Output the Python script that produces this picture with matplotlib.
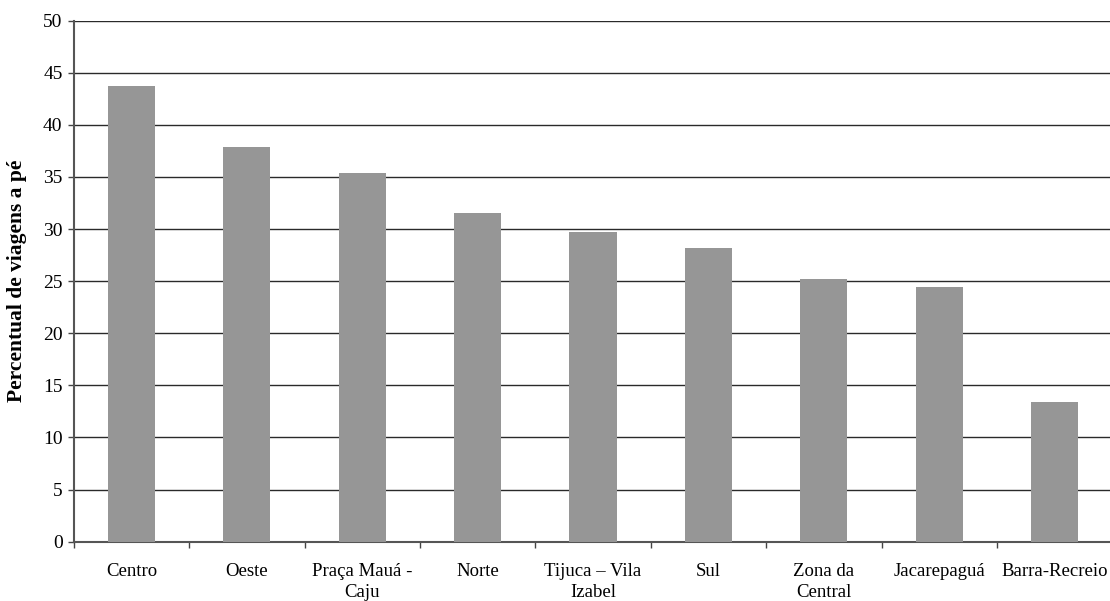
import numpy as np
import matplotlib
matplotlib.use("Agg")
import matplotlib.pyplot as plt

# Percentual de viagens a pé por região
regioes = ["Centro", "Oeste", "Praça Mauá -\nCaju", "Norte", "Tijuca – Vila\nIzabel",
           "Sul", "Zona da\nCentral", "Jacarepaguá", "Barra-Recreio"]
percentual = [43.7, 37.9, 35.4, 31.5, 29.7, 28.2, 25.2, 24.4, 13.4]
y_ticks = [0, 5, 10, 15, 20, 25, 30, 35, 40, 45, 50]

plt.rcParams["font.family"] = ["Liberation Serif", "DejaVu Serif"]

fig = plt.figure(figsize=(11.10, 6.01), dpi=100)
ax = fig.add_axes([0.0664, 0.0987, 0.9357, 0.8669])

x = np.arange(len(regioes))
ax.bar(x, percentual, width=0.41, color="#969696", edgecolor="none", zorder=3)

ax.set_xlim(-0.5, len(regioes) - 0.5)
ax.set_ylim(0, 50)
ax.set_yticks(y_ticks)
ax.yaxis.grid(True, color="#2a2a2a", linewidth=1.0, zorder=0)
ax.set_axisbelow(True)

# category labels at centres, tick marks on the boundaries
ax.set_xticks(x)
ax.set_xticklabels(regioes, fontsize=13.5, linespacing=1.35)
ax.tick_params(axis="x", which="major", length=0, pad=15)
ax.set_xticks(np.arange(len(regioes) + 1) - 0.5, minor=True)
ax.tick_params(axis="x", which="minor", length=4, width=1, color="#444444", direction="out")
ax.tick_params(axis="y", labelsize=14, length=4, width=1, color="#444444", pad=4)

for side in ["top", "right"]:
    ax.spines[side].set_visible(False)
for side in ["left", "bottom"]:
    ax.spines[side].set_color("#555555")
    ax.spines[side].set_linewidth(1.5)

ax.set_ylabel("Percentual de viagens a pé", fontsize=15.5, fontweight="bold")
ax.yaxis.set_label_coords(-0.045, 0.5)

fig.savefig("out.png", dpi=100)
